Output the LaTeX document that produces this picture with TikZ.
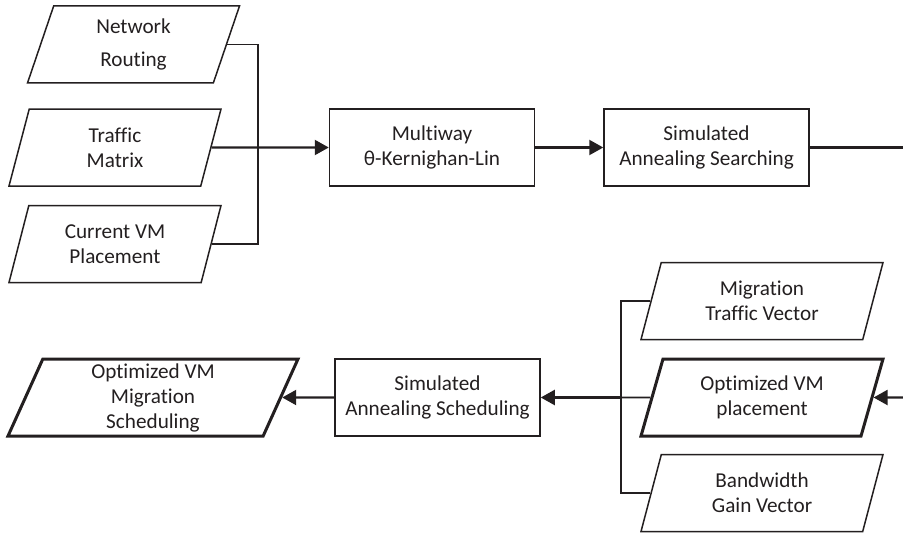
\documentclass[tikz,border=0pt]{standalone}
\usepackage{fontspec}
\setmainfont[Ligatures=NoCommon]{Carlito}
\usetikzlibrary{shapes.geometric,arrows.meta}
\definecolor{myink}{RGB}{35,31,32}

\tikzset{
    datain/.style={trapezium, trapezium left angle=63, trapezium right angle=117,
        trapezium stretches body, draw=myink, line width=0.75pt, inner sep=0pt,
        minimum height=38.5pt, align=center, text=myink},
    procbox/.style={rectangle, draw=myink, line width=0.75pt, inner sep=0pt,
        minimum width=102.5pt, minimum height=38.5pt, align=center, text=myink},
    thin link/.style={draw=myink, line width=0.8pt},
    bold link/.style={draw=myink, line width=1.1pt, -{Triangle[length=7pt,width=7.5pt]}}
}

\begin{document}
\begin{tikzpicture}[x=0.5pt, y=-0.5pt, font=\fontsize{10.6}{12.5}\selectfont]
    \useasboundingbox (0, 0) rectangle (903, 535);
    \begin{scope}
        % Inputs
        \node[datain, minimum width=106pt] (route) at (133.5, 44.5) {Network\\[4pt]Routing};
        \node[datain, minimum width=106pt] (traffic) at (115, 147.5) {Traffic\\Matrix};
        \node[datain, minimum width=106pt] (curvm) at (115, 244) {Current VM\\Placement};
        % Upper chain
        \node[procbox] (kl) at (432, 147.5) {Multiway\\θ-Kernighan-Lin};
        \node[procbox] (search) at (706.5, 147.5) {Simulated\\Annealing Searching};
        \coordinate (jt) at (258, 147.5);
        \draw[thin link] (route.east) -| (jt);
        \draw[thin link] (curvm.east) -| (jt);
        \draw[bold link] (traffic.east) -- (kl.west);
        \draw[bold link] (kl.east) -- (search.west);
    \end{scope}
    \begin{scope}
        % Scheduling inputs
        \node[datain, minimum width=121pt] (migtr) at (762, 301) {Migration\\Traffic Vector};
        \node[datain, minimum width=121pt, line width=1.5pt] (optpl) at (762, 397.5) {Optimized VM\\placement};
        \node[datain, minimum width=121pt] (gain) at (762, 493) {Bandwidth\\Gain Vector};
        % Lower chain
        \node[procbox] (sched) at (437.5, 397.5) {Simulated\\Annealing Scheduling};
        \node[datain, minimum width=145pt, line width=1.5pt] (result) at (153, 397.5) {Optimized VM\\Migration\\Scheduling};
        \coordinate (jb) at (621, 397.5);
        \draw[thin link] (migtr.west) -| (jb);
        \draw[thin link] (gain.west) -| (jb);
        \draw[thin link] (optpl.west) -- (jb);
        \draw[bold link] (jb) -- (sched.east);
        \draw[bold link] (sched.west) -- (result.east);
        % Loop back over the right border
        \coordinate (rt) at (912, 147.5);
        \coordinate (rb) at (912, 397.5);
        \draw[thin link, line width=1.1pt] (search.east) -- (rt) -- (rb);
        \draw[bold link] (rb) -- (optpl.east);
    \end{scope}
\end{tikzpicture}
\end{document}
